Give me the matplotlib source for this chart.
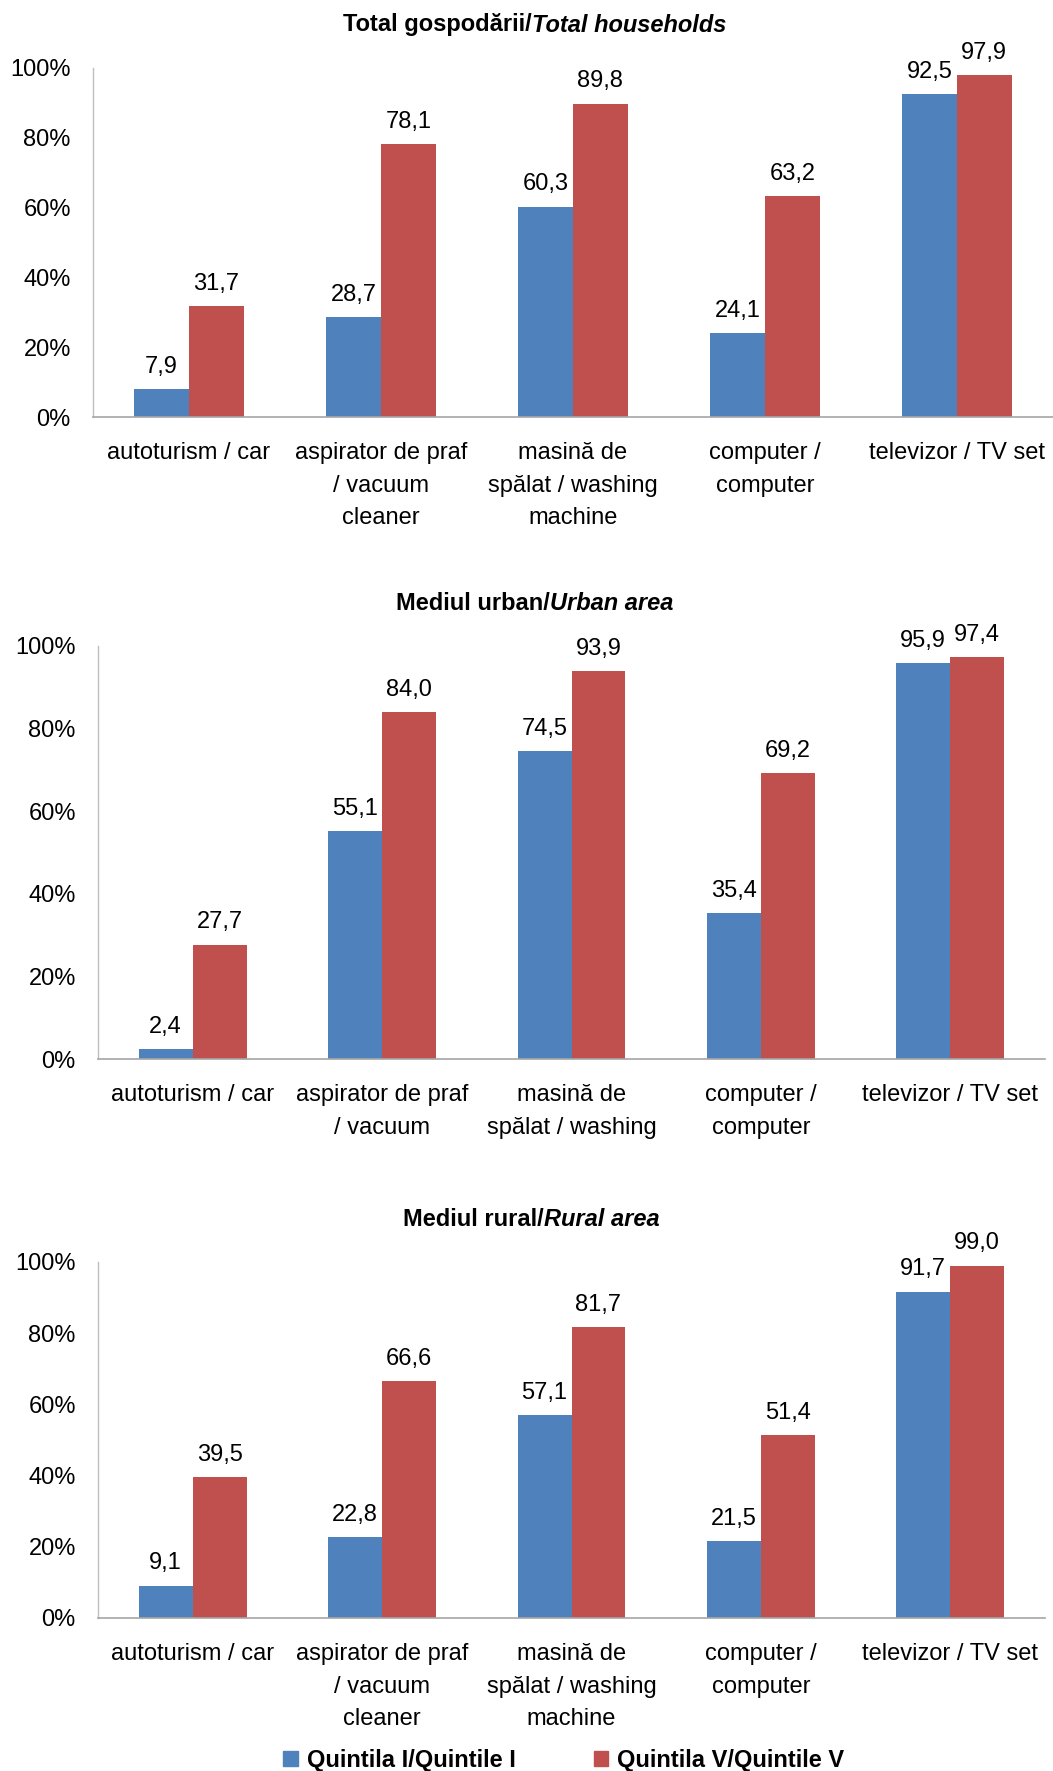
import matplotlib
matplotlib.use("Agg")
import matplotlib.pyplot as plt
from matplotlib.patches import Patch
from matplotlib.ticker import FuncFormatter

plt.rcParams['font.family'] = ['Liberation Sans', 'DejaVu Sans']

categories = ["autoturism / car",
              "aspirator de praf\n/ vacuum\ncleaner",
              "masină de\nspălat / washing\nmachine",
              "computer /\ncomputer",
              "televizor / TV set"]

total_q1 = [7.9, 28.7, 60.3, 24.1, 92.5]
total_q5 = [31.7, 78.1, 89.8, 63.2, 97.9]
urban_q1 = [2.4, 55.1, 74.5, 35.4, 95.9]
urban_q5 = [27.7, 84.0, 93.9, 69.2, 97.4]
rural_q1 = [9.1, 22.8, 57.1, 21.5, 91.7]
rural_q5 = [39.5, 66.6, 81.7, 51.4, 99.0]

titles = [("Total gospodării/", "Total households"),
          ("Mediul urban/", "Urban area"),
          ("Mediul rural/", "Rural area ")]
series_names = ["Quintila I/Quintile I", "Quintila V/Quintile V"]
yticks = [0, 20, 40, 60, 80, 100]

BLUE = "#4F81BD"
RED = "#C0504D"
W, H = 1053, 1771
fig = plt.figure(figsize=(W / 100, H / 100), dpi=100)

# axes rectangles in pixels: left, right, top(100%), bottom(0%)
rects = [(93, 1053, 68, 417), (98, 1045, 646, 1059), (98, 1045, 1262, 1618)]
title_y = [25, 603, 1219]
data = [(total_q1, total_q5), (urban_q1, urban_q5), (rural_q1, rural_q5)]
max_lines = [3, 2, 3]

bw = 0.285
for k, ((l, r, t, b), (q1, q5)) in enumerate(zip(rects, data)):
    ax = fig.add_axes([l / W, 1 - b / H, (r - l) / W, (b - t) / H])
    x = list(range(len(categories)))
    b1 = ax.bar([i - bw / 2 for i in x], q1, bw, color=BLUE)
    b2 = ax.bar([i + bw / 2 for i in x], q5, bw, color=RED)
    for bars, vals in ((b1, q1), (b2, q5)):
        for bar, v in zip(bars, vals):
            ax.annotate(f"{v:.1f}".replace(".", ","),
                        (bar.get_x() + bar.get_width() / 2, v),
                        xytext=(0, 8), textcoords="offset points",
                        ha="center", va="bottom", fontsize=17, clip_on=False)
    ax.set_xlim(-0.5, len(categories) - 0.5)
    ax.set_ylim(0, 100)
    ax.set_yticks(yticks)
    ax.yaxis.set_major_formatter(FuncFormatter(lambda v, p: f"{v:.0f}%"))
    labels = ["\n".join(c.split("\n")[:max_lines[k]]) for c in categories]
    ax.set_xticks(x)
    ax.set_xticklabels(labels, fontsize=17, linespacing=1.63, va="top")
    ax.tick_params(axis="x", length=0, pad=18)
    ax.tick_params(axis="y", length=0, pad=16, labelsize=17)
    for s in ("top", "right"):
        ax.spines[s].set_visible(False)
    ax.spines["left"].set_color("#BFBFBF")
    ax.spines["bottom"].set_color("#A6A6A6")
    ax.spines["left"].set_linewidth(1.0)
    ax.spines["bottom"].set_linewidth(1.2)

    # title with bold + bold italic parts
    p1, p2 = titles[k]
    ty = 1 - title_y[k] / H
    t1 = fig.text(0, ty, p1, fontsize=17, fontweight="bold", va="center")
    t2 = fig.text(0, ty, p2, fontsize=17, fontweight="bold", style="italic", va="center")
    fig.canvas.draw()
    rend = fig.canvas.get_renderer()
    w1 = t1.get_window_extent(rend).width / W
    w2 = t2.get_window_extent(rend).width / W
    cx = 535 / W
    start = cx - (w1 + w2) / 2
    t1.set_x(start)
    t2.set_x(start + w1)

handles = [Patch(color=BLUE), Patch(color=RED)]
fig.legend(handles, series_names, loc="center", bbox_to_anchor=(564 / W, 1 - 1760 / H),
           ncol=2, frameon=False, handlelength=0.6, handleheight=0.6,
           handletextpad=0.4, columnspacing=3.3,
           prop={"size": 17, "weight": "bold"})

fig.savefig("out.png", dpi=100)
